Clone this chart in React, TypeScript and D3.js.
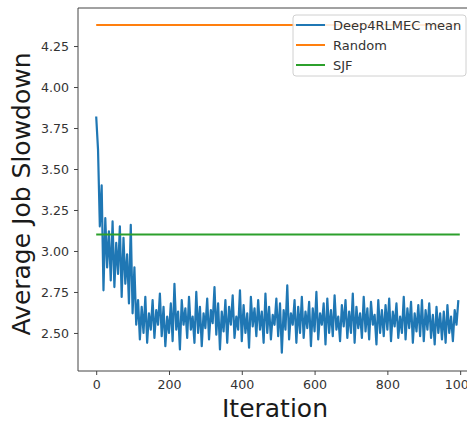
import React, { useEffect, useRef } from "react";
import * as d3 from "d3";

// iterations sampled every 5 steps
const iterStep = 5;
const deepMean = [
  3.82, 3.62, 3.15, 3.40, 2.76, 3.20, 2.90, 3.12, 2.82, 3.18,
  2.78, 3.05, 2.86, 3.15, 2.72, 3.08, 2.80, 2.98, 2.68, 3.16,
  2.62, 2.90, 2.55, 2.70, 2.46, 2.66, 2.50, 2.72, 2.44, 2.62,
  2.52, 2.70, 2.47, 2.64, 2.55, 2.74, 2.48, 2.66, 2.42, 2.60,
  2.50, 2.68, 2.45, 2.80, 2.52, 2.63, 2.40, 2.70, 2.55, 2.65,
  2.47, 2.72, 2.52, 2.60, 2.44, 2.75, 2.50, 2.66, 2.42, 2.62,
  2.53, 2.71, 2.46, 2.64, 2.56, 2.78, 2.49, 2.68, 2.40, 2.63,
  2.51, 2.70, 2.44, 2.66, 2.55, 2.73, 2.47, 2.60, 2.52, 2.76,
  2.45, 2.67, 2.50, 2.62, 2.41, 2.72, 2.54, 2.65, 2.48, 2.70,
  2.52, 2.63, 2.44, 2.74, 2.50, 2.66, 2.46, 2.61, 2.55, 2.71,
  2.48, 2.68, 2.38, 2.64, 2.52, 2.79, 2.46, 2.62, 2.55, 2.70,
  2.44, 2.66, 2.50, 2.72, 2.47, 2.63, 2.53, 2.69, 2.42, 2.65,
  2.51, 2.75, 2.46, 2.62, 2.55, 2.68, 2.43, 2.71, 2.50, 2.64,
  2.48, 2.73, 2.52, 2.60, 2.45, 2.67, 2.54, 2.70, 2.47, 2.63,
  2.50, 2.74, 2.44, 2.66, 2.53, 2.62, 2.47, 2.72, 2.51, 2.65,
  2.46, 2.69, 2.55, 2.61, 2.43, 2.70, 2.50, 2.64, 2.48, 2.67,
  2.52, 2.71, 2.45, 2.63, 2.54, 2.68, 2.47, 2.60, 2.50, 2.72,
  2.46, 2.65, 2.53, 2.69, 2.44, 2.62, 2.51, 2.67, 2.48, 2.70,
  2.45, 2.64, 2.52, 2.68, 2.47, 2.61, 2.43, 2.66, 2.50, 2.62,
  2.46, 2.63, 2.44, 2.67, 2.50, 2.60, 2.45, 2.64, 2.55, 2.70,
];
const randomLevel = 4.378;
const sjfLevel = 3.1;
const xRange = [0, 999];
const xTicks = [0, 200, 400, 600, 800, 1000];
const yTicks = [2.5, 2.75, 3.0, 3.25, 3.5, 3.75, 4.0, 4.25];
const legendItems = [
  { label: "Deep4RLMEC mean", color: "#1f77b4" },
  { label: "Random", color: "#ff7f0e" },
  { label: "SJF", color: "#2ca02c" },
];

export default function App() {
  const width = 467;
  const height = 422;
  const margin = { top: 8, left: 78, bottom: 371 };
  const ref = useRef<SVGSVGElement>(null);

  useEffect(() => {
    const svg = d3.select(ref.current);
    svg.selectAll("*").remove();
    const font = "DejaVu Sans, sans-serif";

    const x = d3.scaleLinear().domain([-50, 1049]).range([margin.left, 478]);
    const y = d3.scaleLinear().domain([2.268, 4.482]).range([margin.bottom, margin.top]);

    const points: [number, number][] = deepMean.map((v, i) => [
      Math.min(i * iterStep, xRange[1]),
      v,
    ]);
    const line = d3
      .line<[number, number]>()
      .x((d) => x(d[0]))
      .y((d) => y(d[1]));

    const plot = svg.append("g");
    plot
      .append("path")
      .datum(points)
      .attr("fill", "none")
      .attr("stroke", "#1f77b4")
      .attr("stroke-width", 2.2)
      .attr("stroke-linejoin", "round")
      .attr("d", line);

    [
      { v: randomLevel, c: "#ff7f0e" },
      { v: sjfLevel, c: "#2ca02c" },
    ].forEach((h) => {
      plot
        .append("path")
        .datum(xRange.map((t) => [t, h.v] as [number, number]))
        .attr("fill", "none")
        .attr("stroke", h.c)
        .attr("stroke-width", 2)
        .attr("d", line);
    });

    // spines
    svg
      .append("path")
      .attr("d", `M${x(1049)},${margin.top}H${margin.left}V${margin.bottom}H${x(1049)}`)
      .attr("fill", "none")
      .attr("stroke", "#444")
      .attr("stroke-width", 1);

    const xAxis = svg
      .append("g")
      .attr("transform", `translate(0,${margin.bottom})`)
      .call(d3.axisBottom(x).tickValues(xTicks).tickSize(4).tickPadding(5).tickFormat(d3.format("d")));
    xAxis.select(".domain").remove();

    const yAxis = svg
      .append("g")
      .attr("transform", `translate(${margin.left},0)`)
      .call(d3.axisLeft(y).tickValues(yTicks).tickSize(4).tickPadding(5).tickFormat(d3.format(".2f")));
    yAxis.select(".domain").remove();

    svg
      .selectAll(".tick line")
      .attr("stroke", "#444");
    svg
      .selectAll(".tick text")
      .attr("fill", "#333")
      .style("font-family", font)
      .style("font-size", "12.6px");

    // axis labels
    svg
      .append("text")
      .attr("x", 275)
      .attr("y", 417)
      .attr("text-anchor", "middle")
      .attr("fill", "#1a1a1a")
      .style("font-family", font)
      .style("font-size", "25px")
      .text("Iteration");

    svg
      .append("text")
      .attr("transform", "translate(30,194) rotate(-90)")
      .attr("text-anchor", "middle")
      .attr("fill", "#1a1a1a")
      .style("font-family", font)
      .style("font-size", "25px")
      .text("Average Job Slowdown");

    // legend
    const lg = svg.append("g");
    lg.append("rect")
      .attr("x", 293)
      .attr("y", 15)
      .attr("width", 173)
      .attr("height", 61)
      .attr("rx", 3)
      .attr("fill", "white")
      .attr("fill-opacity", 0.85)
      .attr("stroke", "#d0d0d0");
    legendItems.forEach((d, i) => {
      const ly = 25 + i * 20;
      lg.append("line")
        .attr("x1", 296)
        .attr("x2", 325)
        .attr("y1", ly)
        .attr("y2", ly)
        .attr("stroke", d.color)
        .attr("stroke-width", 2);
      lg.append("text")
        .attr("x", 333)
        .attr("y", ly)
        .attr("dy", "0.35em")
        .attr("fill", "#333")
        .style("font-family", font)
        .style("font-size", "13px")
        .text(d.label);
    });
  }, []);

  return (
    <svg
      ref={ref}
      width={width}
      height={height}
      style={{ position: "absolute", left: 0, top: 0, background: "white" }}
    />
  );
}
